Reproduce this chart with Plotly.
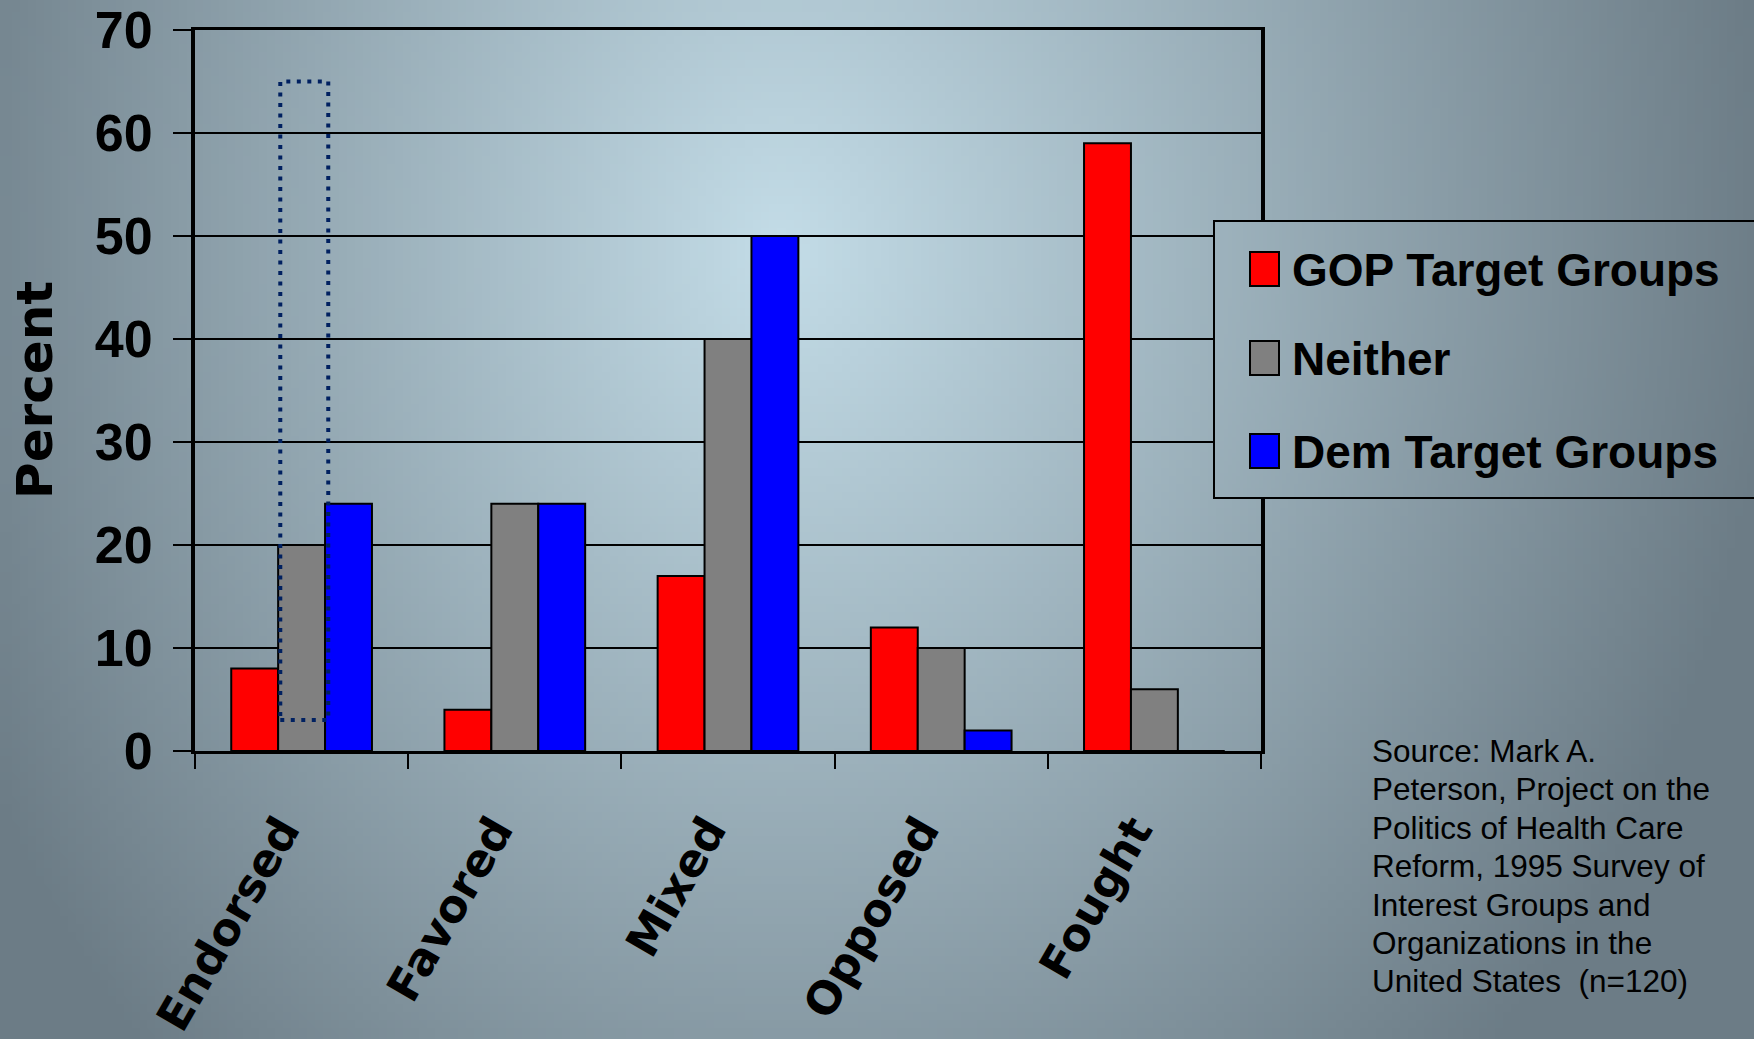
import base64
import struct
import zlib

import numpy as np
import plotly.graph_objects as go

# ---- data -------------------------------------------------------------
categories = ["Endorsed", "Favored", "Mixed", "Opposed", "Fought"]
series_names = ["GOP Target Groups", "Neither", "Dem Target Groups"]
gop_values = [8, 4, 17, 12, 59]
neither_values = [20, 24, 40, 10, 6]
dem_values = [24, 24, 50, 2, 0]
y_ticks = [0, 10, 20, 30, 40, 50, 60, 70]
y_title = "Percent"
source_lines = [
    "Source: Mark A.",
    "Peterson, Project on the",
    "Politics of Health Care",
    "Reform, 1995 Survey of",
    "Interest Groups and",
    "Organizations in the",
    "United States&nbsp; (n=120)",
]

# highlight box around the "Neither / Endorsed" bar (data units)
highlight_x = [-0.10, 0.125]
highlight_y = [3, 65]

colors = ["#FF0000", "#808080", "#0000FF"]

# ---- page geometry ----------------------------------------------------
FIG_W, FIG_H = 1754, 1039
M_L, M_R, M_T, M_B = 195, 493, 30, 288
PW = FIG_W - M_L - M_R
PH = FIG_H - M_T - M_B


def px_to_paper(px, py):
    return (px - M_L) / PW, 1 - (py - M_T) / PH


# ---- background gradient rendered as a small PNG ----------------------
LIGHT = np.array([196, 221, 232], dtype=float)
DARK = np.array([108, 124, 134], dtype=float)
CX, CY = 780.0, 250.0


def shade(px, py):
    rx = np.where(px < CX, 900.0, 1000.0)
    ry = np.where(py < CY, 1200.0, 1150.0)
    t = np.sqrt(((px - CX) / rx) ** 2 + ((py - CY) / ry) ** 2)
    t = np.clip(t, 0, 1)
    return LIGHT[None, None, :] * (1 - t[..., None]) + DARK[None, None, :] * t[..., None]


def gradient_png(x0, x1, y0, y1, nx, ny):
    xs = x0 + (np.arange(nx) + 0.5) * (x1 - x0) / nx
    ys = y0 + (np.arange(ny) + 0.5) * (y1 - y0) / ny
    gx, gy = np.meshgrid(xs, ys)
    arr = np.clip(shade(gx, gy), 0, 255).astype(np.uint8)
    raw = b"".join(b"\x00" + arr[i].tobytes() for i in range(ny))

    def chunk(tag, data):
        return (struct.pack(">I", len(data)) + tag + data
                + struct.pack(">I", zlib.crc32(tag + data) & 0xFFFFFFFF))

    png = (b"\x89PNG\r\n\x1a\n"
           + chunk(b"IHDR", struct.pack(">IIBBBBB", nx, ny, 8, 2, 0, 0, 0))
           + chunk(b"IDAT", zlib.compress(raw, 9))
           + chunk(b"IEND", b""))
    return "data:image/png;base64," + base64.b64encode(png).decode()


# ---- figure -----------------------------------------------------------
fig = go.Figure()
for name, vals, col in zip(series_names, [gop_values, neither_values, dem_values], colors):
    fig.add_trace(go.Bar(
        x=categories, y=vals, name=name,
        marker=dict(color=col, line=dict(color="black", width=2)),
        showlegend=False,
    ))

bold_sans = "Liberation Sans Narrow, Arial Narrow, Liberation Sans, Arial"
wide_bold = "DejaVu Sans, Verdana, sans-serif"

fig.update_layout(
    width=FIG_W, height=FIG_H,
    margin=dict(l=M_L, r=M_R, t=M_T, b=M_B, autoexpand=False),
    paper_bgcolor="rgba(0,0,0,0)",
    plot_bgcolor="rgba(0,0,0,0)",
    barmode="group", bargap=0.34, bargroupgap=0,
    xaxis=dict(
        type="category", range=[-0.5, 4.5],
        showline=True, linecolor="black", linewidth=3, mirror=True,
        ticks="outside", tickson="boundaries", ticklen=15, tickwidth=2, tickcolor="black",
        tickangle=-60, ticklabelstandoff=32, ticklabelshift=-20,
        tickfont=dict(family=wide_bold, size=45, color="black", weight="bold"),
        showgrid=False,
    ),
    yaxis=dict(
        range=[0, 70], tickvals=y_ticks,
        showline=True, linecolor="black", linewidth=4, mirror=True,
        ticks="outside", ticklen=18, tickwidth=2, tickcolor="black",
        ticklabelstandoff=10, ticklabeloverflow="allow",
        tickfont=dict(family=bold_sans, size=52, color="black", weight="bold"),
        showgrid=True, gridcolor="black", gridwidth=2, zeroline=False,
    ),
)

# vertical axis title
ttx, tty = px_to_paper(35, 390)
fig.add_annotation(xref="paper", yref="paper", x=ttx, y=tty,
                   xanchor="center", yanchor="middle", showarrow=False,
                   text=y_title, textangle=-90,
                   font=dict(family=wide_bold, size=50, color="black", weight="bold"))

# full-page gradient behind everything
fx0, fy0 = px_to_paper(0, 0)
images = [dict(
    source=gradient_png(0, FIG_W, 0, FIG_H, 220, 130),
    xref="paper", yref="paper", x=fx0, y=fy0,
    sizex=FIG_W / PW, sizey=FIG_H / PH,
    xanchor="left", yanchor="top", sizing="stretch", layer="below",
)]

# legend panel: same gradient patch drawn over the grid, then its frame
LG_X0, LG_X1, LG_Y0, LG_Y1 = 1214, 1760, 221, 498
lx0, ly0 = px_to_paper(LG_X0, LG_Y0)
lx1, ly1 = px_to_paper(LG_X1, LG_Y1)
images.append(dict(
    source=gradient_png(LG_X0, LG_X1, LG_Y0, LG_Y1, 140, 70),
    xref="paper", yref="paper", x=lx0, y=ly0,
    sizex=lx1 - lx0, sizey=ly0 - ly1,
    xanchor="left", yanchor="top", sizing="stretch", layer="above",
))
fig.update_layout(images=images)

fig.add_shape(type="rect", xref="paper", yref="paper",
              x0=lx0, x1=lx1, y0=ly1, y1=ly0,
              line=dict(color="black", width=2), fillcolor="rgba(0,0,0,0)", layer="above")

entry_centers = [269, 358, 451]
for name, col, cy in zip(series_names, colors, entry_centers):
    sx0, sy0 = px_to_paper(1250, cy - 17)
    sx1, sy1 = px_to_paper(1279, cy + 17)
    fig.add_shape(type="rect", xref="paper", yref="paper",
                  x0=sx0, x1=sx1, y0=sy1, y1=sy0,
                  line=dict(color="black", width=2), fillcolor=col, layer="above")
    tx, ty = px_to_paper(1290, cy + 1)
    fig.add_annotation(xref="paper", yref="paper", x=tx, y=ty,
                       xanchor="left", yanchor="middle", showarrow=False,
                       text=name,
                       font=dict(family=bold_sans, size=46, color="black", weight="bold"))

# dotted highlight around the Endorsed / Neither bar
fig.add_shape(type="rect", xref="x", yref="y",
              x0=highlight_x[0], x1=highlight_x[1],
              y0=highlight_y[0], y1=highlight_y[1],
              line=dict(color="#002060", width=4, dash="4px,6.5px"),
              fillcolor="rgba(0,0,0,0)", layer="above")

# source note, one line per annotation for tight leading
for i, line in enumerate(source_lines):
    sx, sy = px_to_paper(1370, 751 + 38.4 * i)
    fig.add_annotation(xref="paper", yref="paper", x=sx, y=sy,
                       xanchor="left", yanchor="middle", align="left", showarrow=False,
                       text=line,
                       font=dict(family="Liberation Sans, Arial, sans-serif", size=31.5, color="black"))

fig.write_html("out.html")
